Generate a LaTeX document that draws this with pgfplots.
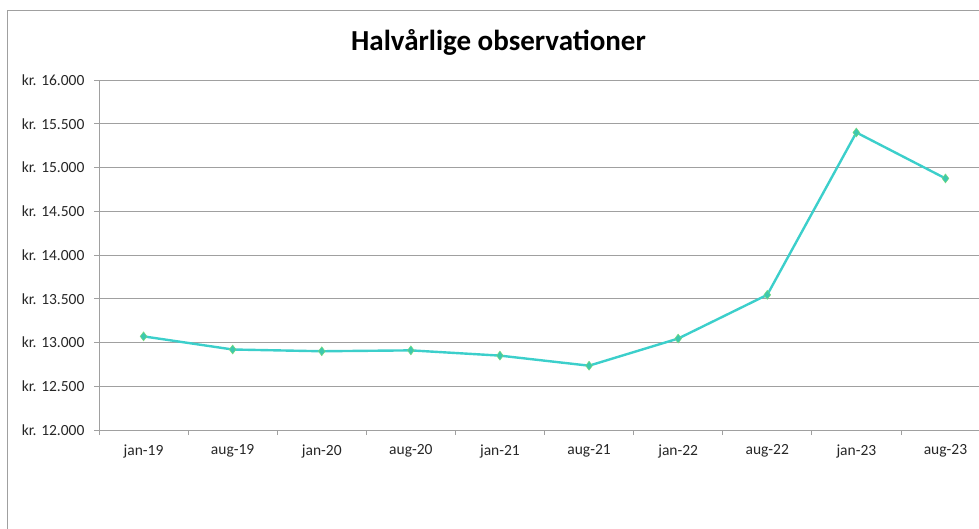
\documentclass[border=0pt]{standalone}
\usepackage{pgfplots}
\pgfplotsset{compat=1.18}
\usepackage{fontspec}
\setmainfont{Carlito}
\definecolor{gridc}{HTML}{A0A0A0}
\definecolor{linec}{HTML}{3CCFCB}
\definecolor{markc}{HTML}{3CC8B0}
\begin{document}
\begin{tikzpicture}[x=1pt,y=1pt]
\useasboundingbox (0,0) rectangle (979,528);
\clip (0,0) rectangle (979,528);
\draw[gridc, line width=1pt] (7.5,-20) -- (7.5,517) -- (1100,517);
\begin{axis}[
  at={(99pt,98pt)}, anchor=south west,
  scale only axis, width=891pt, height=350pt,
  xmin=-0.5, xmax=9.5, ymin=12000, ymax=16000,
  scaled y ticks=false,
  axis x line*=bottom, axis y line*=left,
  axis line style={gridc, line width=0.8pt, -},
  xtick={0,...,9},
  xticklabels={jan-19,aug-19,jan-20,aug-20,jan-21,aug-21,jan-22,aug-22,jan-23,aug-23},
  major x tick style={draw=none},
  minor xtick={-0.5,0.5,...,9.5},
  minor tick length=5pt,
  minor x tick style={gridc, line width=0.8pt},
  ytick={12000,12500,...,16000},
  yticklabels={kr. 12.000,kr. 12.500,kr. 13.000,kr. 13.500,kr. 14.000,kr. 14.500,kr. 15.000,kr. 15.500,kr. 16.000},
  major tick length=5pt,
  tick align=outside,
  major y tick style={gridc, line width=0.8pt},
  ymajorgrids, major grid style={gridc, line width=0.8pt},
  ticklabel style={font=\fontsize{15.5}{18}\selectfont, text=black!85},
  yticklabel style={xshift=-6pt},
  xticklabel style={yshift=-6pt},
  clip=false,
]
\addplot[linec, line width=2.4pt, mark=diamond*, mark size=4.5pt,
  mark options={fill=markc, draw=markc!70!yellow, line width=0.5pt}]
  coordinates {(0,13070) (1,12920) (2,12900) (3,12910) (4,12850) (5,12735) (6,13045) (7,13545) (8,15400) (9,14875)};
\end{axis}
\node[font=\fontsize{29}{33}\selectfont\bfseries, anchor=center] at (498.5,486) {Halvårlige observationer};
\end{tikzpicture}
\end{document}
